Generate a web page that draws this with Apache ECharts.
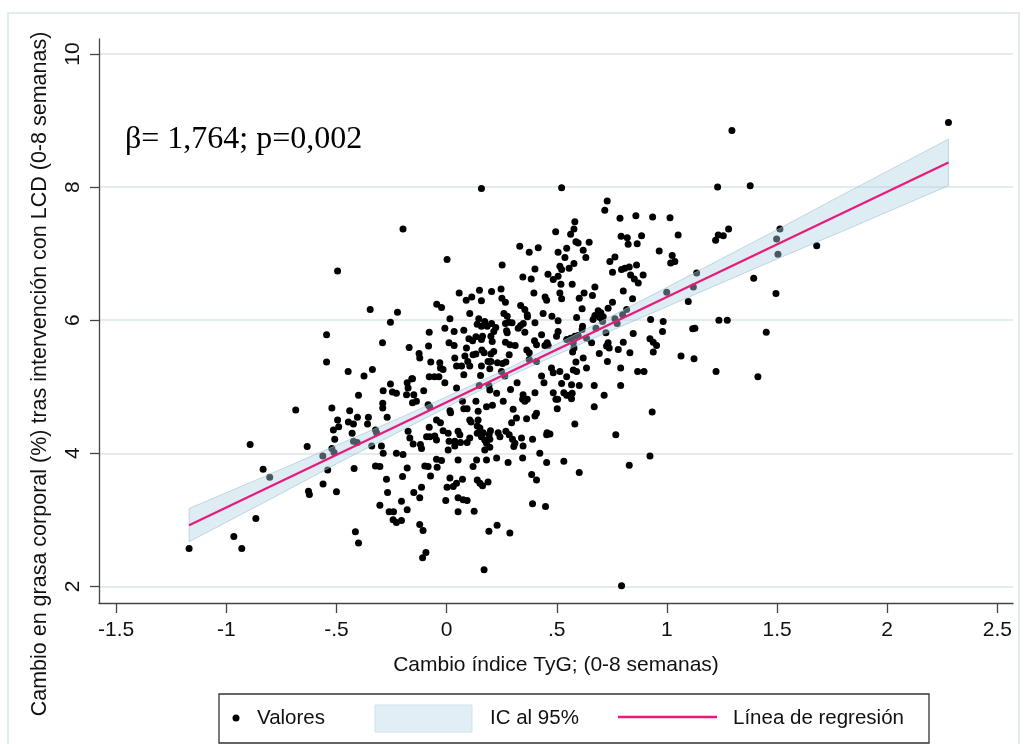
<!DOCTYPE html>
<html>
<head>
<meta charset="utf-8">
<script src="https://cdn.jsdelivr.net/npm/echarts@6/dist/echarts.min.js"></script>
<style>
  html, body { margin: 0; padding: 0; background: #ffffff; }
  #chart { width: 1026px; height: 744px; }
</style>
</head>
<body>
<div id="chart"></div>
<script>
// Observed values: [change in TyG index, change in body fat %]
const valores = [
  [-0.495,6.74],[-0.347,6.16],[-0.223,6.12],[-0.255,5.97],[-0.545,5.78],[-0.291,5.66],[-0.545,5.37],[-0.447,5.23],
  [-0.337,5.26],[-0.375,5.16],[-0.255,5.04],[-0.288,4.94],[-0.246,4.92],[-0.228,4.90],[-0.400,4.87],[-0.290,4.75],
  [-0.290,4.68],[-0.521,4.68],[-0.685,4.65],[-0.440,4.64],[-0.270,4.54],[-0.355,4.54],[-0.405,4.54],[-0.495,4.50],
  [-0.490,4.40],[-0.446,4.47],[-0.423,4.44],[-0.359,4.44],[-0.514,4.35],[-0.323,4.35],[-0.318,4.31],[-0.429,4.30],
  [-0.508,4.21],[-0.423,4.18],[-0.406,4.16],[-0.633,4.10],[-0.892,4.13],[-0.521,4.07],[-0.511,4.01],[-0.340,4.11],
  [-0.296,4.11],[-0.288,4.00],[-0.228,4.00],[-0.562,3.96],[-0.420,3.77],[-0.540,3.75],[-0.833,3.76],[-0.803,3.64],
  [-0.323,3.81],[-0.303,3.80],[-0.273,3.61],[-0.561,3.54],[-0.627,3.43],[-0.623,3.38],[-0.500,3.42],[-0.268,3.41],
  [-0.303,3.22],[-0.261,3.12],[-0.241,3.12],[-0.243,3.00],[-0.228,2.96],[-0.866,3.02],[-0.966,2.75],[-0.930,2.57],
  [-1.169,2.57],[-0.414,2.82],[-0.400,2.65],
  [0.158,7.98],[-0.198,7.37],[0.002,6.91],[0.332,7.11],[0.375,7.02],[0.416,7.09],[0.252,6.83],[0.401,6.77],
  [0.460,6.69],[0.346,6.65],[0.384,6.62],[0.057,6.41],[0.149,6.45],[0.204,6.43],[0.247,6.47],[0.114,6.35],
  [0.089,6.30],[0.158,6.29],[0.251,6.33],[0.267,6.27],[0.396,6.41],[0.447,6.35],[0.454,6.30],[-0.045,6.24],
  [-0.023,6.19],[0.336,6.22],[0.355,6.16],[0.366,6.08],[0.367,6.05],[0.105,6.10],[0.260,6.10],[0.275,6.06],
  [0.438,6.10],[0.015,6.02],[0.146,6.02],[0.173,5.98],[0.139,5.94],[0.158,5.91],[0.184,5.91],[0.204,5.95],
  [0.223,5.89],[0.214,5.83],[0.267,5.95],[0.282,5.97],[0.275,5.81],[0.272,5.84],[0.297,5.96],[0.325,5.88],
  [0.336,5.92],[0.348,5.95],[0.401,5.96],[0.355,5.82],[-0.008,5.88],[0.034,5.83],[0.078,5.85],[-0.079,5.82],
  [0.101,5.72],[0.118,5.69],[0.133,5.75],[0.163,5.76],[0.158,5.71],[0.201,5.76],[0.207,5.68],[0.011,5.66],
  [0.034,5.62],[0.267,5.67],[0.287,5.63],[0.311,5.62],[0.399,5.69],[0.408,5.63],[0.431,5.78],[0.461,5.62],
  [0.446,5.62],[-0.170,5.59],[-0.082,5.61],[-0.125,5.50],[-0.122,5.43],[0.090,5.58],[0.083,5.46],[0.096,5.38],
  [0.105,5.31],[0.120,5.48],[0.133,5.49],[0.160,5.55],[0.170,5.51],[0.201,5.49],[0.214,5.53],[0.201,5.38],
  [0.188,5.38],[0.196,5.27],[0.158,5.31],[0.154,5.17],[0.231,5.36],[0.254,5.35],[0.269,5.37],[0.364,5.55],
  [0.375,5.51],[0.456,5.66],[-0.072,5.37],[-0.031,5.36],[-0.028,5.28],[-0.016,5.26],[0.037,5.43],[0.045,5.31],
  [0.068,5.31],[-0.158,5.12],[-0.079,5.15],[-0.055,5.15],[-0.035,5.15],[0.078,5.18],[0.249,5.23],[0.264,5.16],
  [0.431,5.16],[0.375,5.41],[0.408,5.38],[0.284,5.48],
  [-0.179,5.06],[-0.155,5.12],[-0.175,4.98],[-0.149,4.88],[-0.137,4.78],[-0.155,4.76],[-0.182,4.88],[-0.104,4.94],
  [-0.008,5.06],[-0.084,4.73],[-0.077,4.70],[0.045,4.98],[0.072,4.78],[0.078,4.67],[0.093,4.67],[0.015,4.64],
  [0.018,4.61],[0.133,4.78],[0.143,4.63],[0.105,4.50],[0.111,4.47],[0.143,4.50],[0.148,5.02],[0.192,5.02],
  [0.196,4.95],[0.227,4.90],[0.181,4.70],[0.208,4.72],[0.257,4.78],[0.290,4.96],[0.320,5.06],[0.302,4.66],
  [0.295,4.46],[0.317,4.53],[0.363,4.52],[0.401,4.56],[0.408,4.60],[0.347,4.88],[0.366,4.81],[0.355,4.78],
  [0.345,4.81],[0.401,4.91],[0.442,5.06],[0.456,4.31],[-0.046,4.50],[-0.028,4.46],[-0.016,4.34],[-0.054,4.26],
  [-0.046,4.20],[-0.079,4.39],[-0.175,4.33],[-0.167,4.23],[-0.152,4.14],[-0.119,4.13],[-0.114,4.07],[-0.091,4.25],
  [-0.076,4.25],[-0.198,3.98],[-0.179,3.78],[-0.200,3.65],[-0.099,3.81],[-0.084,3.80],[-0.073,3.66],[-0.046,3.91],
  [-0.023,3.89],[-0.043,3.79],[0.007,4.30],[0.011,4.18],[0.007,4.05],[0.037,4.18],[0.037,4.11],[0.052,4.33],
  [0.060,4.28],[0.063,4.16],[0.093,4.16],[0.105,4.23],[0.139,4.41],[0.151,4.38],[0.139,4.30],[0.158,4.25],
  [0.166,4.31],[0.173,4.20],[0.181,4.15],[0.196,4.21],[0.193,4.28],[0.199,4.34],[0.173,4.05],[0.196,4.09],
  [0.181,3.90],[0.234,4.31],[0.242,4.25],[0.269,4.33],[0.284,4.28],[0.299,4.21],[0.310,4.15],[0.305,4.10],
  [0.340,4.23],[0.347,4.11],[0.390,4.21],[0.345,3.93],[0.227,3.93],[0.279,3.86],[0.423,4.00],[0.454,3.86],
  [0.386,3.68],[0.408,3.60],[0.052,3.90],[0.120,3.80],[0.136,3.90],[0.015,3.63],[0.002,3.49],[0.030,3.50],
  [0.045,3.55],[0.072,3.61],[-0.004,3.29],[0.052,3.33],[0.075,3.30],[0.093,3.29],[0.139,3.60],[0.151,3.55],
  [0.163,3.51],[0.188,3.57],[0.052,3.12],[0.125,3.13],[-0.149,3.41],[-0.122,3.33],[-0.114,3.49],[-0.205,3.28],
  [-0.179,3.15],[-0.205,2.99],[-0.122,2.93],[-0.107,2.84],[-0.094,2.51],[-0.109,2.43],[0.192,2.83],[0.229,2.92],
  [0.287,2.80],[0.170,2.25],[0.390,3.24],[0.449,3.20],
  [0.522,7.99],[0.729,7.79],[0.718,7.65],[0.787,7.53],[0.859,7.57],[0.935,7.55],[1.014,7.54],[0.582,7.48],
  [0.578,7.37],[0.563,7.29],[0.495,7.33],[0.587,7.18],[0.597,7.16],[0.647,7.17],[0.545,7.08],[0.506,7.02],
  [0.537,6.94],[0.620,7.05],[0.632,6.94],[0.792,7.26],[0.820,7.24],[0.824,7.14],[0.865,7.15],[0.885,7.27],
  [1.051,7.28],[0.965,7.04],[1.024,6.97],[1.036,6.88],[1.017,6.86],[0.741,6.88],[0.764,6.95],[0.514,6.81],
  [0.522,6.76],[0.556,6.78],[0.578,6.85],[0.484,6.61],[0.506,6.66],[0.519,6.54],[0.753,6.72],[0.794,6.76],
  [0.809,6.78],[0.829,6.80],[0.862,6.83],[0.835,6.68],[0.852,6.62],[0.870,6.56],[0.892,6.68],[0.570,6.54],
  [0.673,6.50],[0.624,6.41],[0.602,6.33],[0.662,6.37],[0.514,6.41],[0.522,6.32],[0.802,6.44],[0.615,6.17],
  [0.478,6.06],[0.506,5.99],[0.590,6.04],[0.617,5.91],[0.615,5.86],[0.673,6.07],[0.665,6.01],[0.688,6.14],
  [0.700,6.11],[0.696,6.04],[0.711,6.05],[0.708,5.98],[0.678,5.88],[0.733,6.18],[0.753,6.27],[0.799,6.08],
  [0.817,6.16],[0.844,6.32],[0.926,6.01],[0.983,5.98],[0.980,5.83],[1.097,6.28],[1.135,6.71],[1.120,6.50],
  [1.117,5.87],[1.127,5.88],[0.999,6.42],[0.764,6.02],[0.774,5.95],[0.506,5.83],[0.499,5.76],[0.545,5.71],
  [0.563,5.73],[0.582,5.76],[0.597,5.77],[0.575,5.66],[0.578,5.58],[0.572,5.52],[0.635,5.73],[0.658,5.66],
  [0.723,5.81],[0.733,5.66],[0.726,5.61],[0.738,5.58],[0.693,5.50],[0.779,5.56],[0.802,5.67],[0.832,5.51],
  [0.847,5.80],[0.923,5.72],[0.938,5.67],[0.953,5.62],[0.938,5.52],[1.064,5.46],[1.123,5.42],[0.587,5.37],
  [0.620,5.43],[0.635,5.28],[0.590,5.23],[0.575,5.25],[0.476,5.28],[0.484,5.21],[0.514,5.23],[0.545,5.15],
  [0.730,5.38],[0.790,5.28],[0.867,5.23],[0.896,5.23],
  [0.522,5.05],[0.567,5.03],[0.602,5.02],[0.670,5.02],[0.790,5.02],[0.484,4.91],[0.496,4.81],[0.504,4.81],
  [0.532,4.91],[0.545,4.87],[0.556,4.87],[0.570,4.90],[0.567,4.82],[0.502,4.67],[0.670,4.70],[0.715,4.87],
  [0.933,4.62],[0.582,4.44],[0.454,4.28],[0.469,4.29],[0.768,4.28],[0.532,3.88],[0.602,3.71],[0.829,3.82],
  [0.923,3.96],[0.794,2.01],
  [2.278,8.97],[1.295,8.85],[1.230,8.00],[1.378,8.02],[1.280,7.37],[1.233,7.28],[1.256,7.27],[1.221,7.20],
  [1.513,7.37],[1.498,7.22],[1.504,6.99],[1.680,7.12],[1.394,6.63],[1.495,6.40],[1.236,6.00],[1.274,6.00],
  [1.451,5.82],[1.223,5.23],[1.413,5.15]
];

// 95% confidence band of the fitted line
const bandX    = [-1.169, -0.8, -0.5, -0.2, 0.1, 0.3, 0.6, 0.9, 1.2, 1.5, 1.8, 2.278];
const bandLow  = [2.67, 3.31, 3.84, 4.35, 4.86, 5.18, 5.63, 6.06, 6.49, 6.92, 7.34, 8.02];
const bandHigh = [3.17, 3.69, 4.12, 4.55, 5.00, 5.31, 5.81, 6.32, 6.84, 7.36, 7.89, 8.72];

// Fitted regression line (end points)
const lineX = [-1.169, 2.278];
const lineY = [2.92, 8.37];

// Axis ticks
const xTicks = [-1.5, -1, -0.5, 0, 0.5, 1, 1.5, 2, 2.5];
const xTickLabels = ['-1.5', '-1', '-.5', '0', '.5', '1', '1.5', '2', '2.5'];
const yTicks = [2, 4, 6, 8, 10];
const yTickLabels = ['2', '4', '6', '8', '10'];

const annotation = 'β= 1,764; p=0,002';
const xTitle = 'Cambio índice TyG; (0-8 semanas)';
const yTitle = 'Cambio en grasa corporal (%) tras intervención con LCD (0-8 semanas)';
const legendNames = ['Valores', 'IC al 95%', 'Línea de regresión'];

const SANS = "'Liberation Sans', Arial, Helvetica, sans-serif";
const AXIS_COLOR = '#444444';
const PINK = '#e8197a';

function tickLabel(ticks, labels) {
  return function (v) {
    const i = ticks.findIndex(t => Math.abs(t - v) < 1e-6);
    return i >= 0 ? labels[i] : '';
  };
}

const chart = echarts.init(document.getElementById('chart'), null, { renderer: 'canvas' });

const option = {
  backgroundColor: '#ffffff',
  animation: false,
  grid: { left: 99, right: 13, top: 39, bottom: 141, containLabel: false, outerBoundsMode: 'none' },
  xAxis: {
    type: 'value',
    min: -1.578, max: 2.571,
    axisLine: { show: true, onZero: false, lineStyle: { color: AXIS_COLOR, width: 1.3 } },
    axisTick: { show: true, length: 10, customValues: xTicks, lineStyle: { color: AXIS_COLOR, width: 1.3 } },
    axisLabel: {
      customValues: xTicks, formatter: tickLabel(xTicks, xTickLabels),
      margin: 17, fontSize: 21, fontFamily: SANS, color: '#111111'
    },
    splitLine: { show: false },
    name: xTitle, nameLocation: 'middle', nameGap: 52,
    nameTextStyle: { fontSize: 21, fontFamily: SANS, color: '#111111' }
  },
  yAxis: {
    type: 'value',
    min: 1.75, max: 10.225,
    axisLine: { show: true, onZero: false, lineStyle: { color: AXIS_COLOR, width: 1.3 } },
    axisTick: { show: true, length: 9, customValues: yTicks, lineStyle: { color: AXIS_COLOR, width: 1.3 } },
    axisLabel: {
      customValues: yTicks, formatter: tickLabel(yTicks, yTickLabels), rotate: 90,
      margin: 15, fontSize: 21, fontFamily: SANS, color: '#111111'
    },
    splitLine: { show: false }
  },
  series: [
    {
      // horizontal reference lines at the labelled ticks, kept beneath the points
      type: 'line', data: [], z: 0, silent: true,
      markLine: {
        z: 0, silent: true, symbol: 'none', animation: false,
        label: { show: false },
        emphasis: { disabled: true },
        lineStyle: { color: '#e3edf0', width: 2, type: 'solid' },
        data: yTicks.map(v => ({ yAxis: v }))
      }
    },
    {
      name: legendNames[0], type: 'scatter', z: 2,
      data: valores, symbol: 'circle', symbolSize: 7,
      itemStyle: { color: '#000000', opacity: 1 }
    },
    {
      name: legendNames[1], type: 'custom', z: 3, silent: true,
      data: [[bandX[0], bandLow[0]]],
      renderItem: function (params, api) {
        const pts = [];
        for (let i = 0; i < bandX.length; i++) pts.push(api.coord([bandX[i], bandHigh[i]]));
        for (let i = bandX.length - 1; i >= 0; i--) pts.push(api.coord([bandX[i], bandLow[i]]));
        return {
          type: 'polygon',
          shape: { points: pts },
          style: { fill: 'rgba(176,210,226,0.42)', stroke: 'rgba(150,190,210,0.55)', lineWidth: 1 }
        };
      }
    },
    {
      name: legendNames[2], type: 'line', z: 4, silent: true,
      data: lineX.map((x, i) => [x, lineY[i]]),
      symbol: 'none',
      lineStyle: { color: PINK, width: 2.2 }
    }
  ],
  graphic: [
    // figure frame
    { type: 'rect', z: -1, shape: { x: 8, y: 13, width: 1011, height: 745 },
      style: { fill: 'none', stroke: '#e4eded', lineWidth: 2 } },
    // vertical axis title
    { type: 'text', x: 40, y: 374, rotation: Math.PI / 2,
      style: { text: yTitle, font: "21.5px 'Liberation Sans', Arial, sans-serif", fill: '#111111',
               textAlign: 'center', textVerticalAlign: 'middle' } },
    // regression annotation
    { type: 'text', x: 125, y: 140,
      style: { text: annotation, font: "32px 'Liberation Serif', 'Times New Roman', serif", fill: '#000000',
               textAlign: 'left', textVerticalAlign: 'middle' } },
    // legend
    { type: 'group', children: [
      { type: 'rect', shape: { x: 219, y: 694, width: 710, height: 49 },
        style: { fill: '#ffffff', stroke: '#333333', lineWidth: 1.3 } },
      { type: 'circle', shape: { cx: 236, cy: 718, r: 3.5 }, style: { fill: '#000000' } },
      { type: 'text', x: 257, y: 718,
        style: { text: legendNames[0], font: "20.5px 'Liberation Sans', Arial, sans-serif", fill: '#111111',
                 textAlign: 'left', textVerticalAlign: 'middle' } },
      { type: 'rect', shape: { x: 375, y: 705, width: 97, height: 27 },
        style: { fill: '#e1eef4', stroke: '#cfe2eb', lineWidth: 1 } },
      { type: 'text', x: 490, y: 718,
        style: { text: legendNames[1], font: "20.5px 'Liberation Sans', Arial, sans-serif", fill: '#111111',
                 textAlign: 'left', textVerticalAlign: 'middle' } },
      { type: 'line', shape: { x1: 618, y1: 717, x2: 717, y2: 717 },
        style: { stroke: PINK, lineWidth: 2.5 } },
      { type: 'text', x: 733, y: 718,
        style: { text: legendNames[2], font: "20.5px 'Liberation Sans', Arial, sans-serif", fill: '#111111',
                 textAlign: 'left', textVerticalAlign: 'middle' } }
    ] }
  ]
};

chart.setOption(option);
</script>
</body>
</html>
